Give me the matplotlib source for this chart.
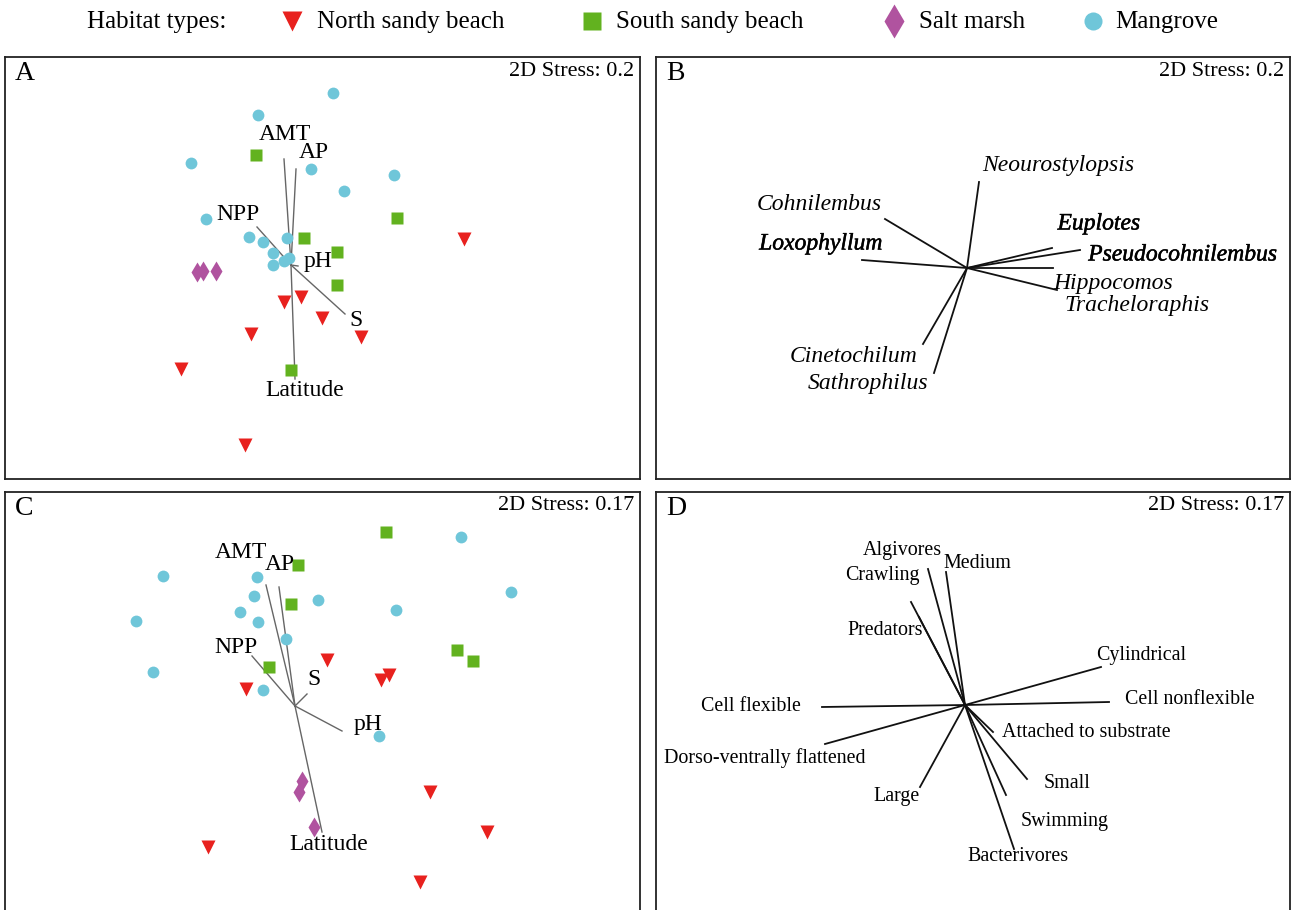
import matplotlib
matplotlib.use("Agg")
import matplotlib.pyplot as plt
import matplotlib.patheffects as pe

plt.rcParams['font.family'] = ['Liberation Serif', 'DejaVu Serif']

W, H = 1293, 910

# habitat colours / markers
hab_names = ['North sandy beach', 'South sandy beach', 'Salt marsh', 'Mangrove']
hab_colors = ['#e8211e', '#62b21f', '#b0539f', '#6fc6d9']
hab_markers = ['v', 's', 'd', 'o']

# ---- panel A: samples (ordination coords, plot units) ----
a_north_x = [464, 284, 301, 322, 251, 361, 181, 245]
a_north_y = [239, 302, 297, 318, 334, 337, 369, 445]
a_south_x = [256, 397, 304, 337, 337, 291]
a_south_y = [155, 218, 238, 252, 285, 370]
a_marsh_x = [197, 203, 216]
a_marsh_y = [272, 271, 271]
a_mang_x = [333, 258, 191, 311, 394, 344, 206, 249, 263, 287, 273, 273, 284, 289]
a_mang_y = [93, 115, 163, 169, 175, 191, 219, 237, 242, 238, 253, 265, 261, 258]

env_names = ['AMT', 'AP', 'NPP', 'S', 'pH', 'Latitude']
a_origin = (291, 265)
a_env_dx = [-7, 5, -34, 54, 7, 4]
a_env_dy = [-106, -96, -38, 49, 1, 114]

# ---- panel C ----
c_north_x = [327, 389, 381, 246, 430, 487, 208, 420]
c_north_y = [660, 675, 680, 689, 792, 832, 847, 882]
c_south_x = [386, 298, 291, 457, 473, 269]
c_south_y = [532, 565, 604, 650, 661, 667]
c_marsh_x = [302, 299, 314]
c_marsh_y = [781, 792, 827]
c_mang_x = [461, 511, 163, 257, 254, 318, 240, 258, 396, 136, 286, 153, 263, 379]
c_mang_y = [537, 592, 576, 577, 596, 600, 612, 622, 610, 621, 639, 672, 690, 736]

c_origin = (295, 706)
c_env_dx = [-29, -16, -43, 12, 47, 27]
c_env_dy = [-121, -119, -50, -12, 25, 126]

# ---- panel B: genera ----
genera = ['Neourostylopsis', 'Cohnilembus', 'Loxophyllum', 'Euplotes',
          'Pseudocohnilembus', 'Hippocomos', 'Tracheloraphis',
          'Cinetochilum', 'Sathrophilus']
b_origin = (967, 268)
b_dx = [12, -82, -105, 85, 113, 86, 90, -44, -33]
b_dy = [-86, -49, -8, -20, -18, 0, 22, 76, 105]

# ---- panel D: traits ----
traits = ['Algivores', 'Medium', 'Crawling', 'Predators', 'Cylindrical',
          'Cell nonflexible', 'Cell flexible', 'Dorso-ventrally flattened',
          'Attached to substrate', 'Small', 'Swimming', 'Bacterivores', 'Large']
d_origin = (965, 705)
d_dx = [-37, -19, -54, -46, 136, 144, -143, -140, 28, 62, 41, 49, -45]
d_dy = [-136, -133, -103, -88, -38, -3, 2, 39, 27, 74, 90, 144, 82]

# label placement (layout)
a_lab = {'AMT': (285, 135), 'AP': (314, 153), 'NPP': (238, 214),
         'S': (356, 321), 'pH': (318, 262), 'Latitude': (305, 391)}
c_lab = {'AMT': (241, 553), 'AP': (280, 565), 'NPP': (236, 648),
         'S': (314, 680), 'pH': (368, 725), 'Latitude': (329, 845)}
b_lab = {'Neourostylopsis': (1058, 166), 'Cohnilembus': (819, 204),
         'Loxophyllum': (821, 244), 'Euplotes': (1099, 224),
         'Pseudocohnilembus': (1183, 255), 'Hippocomos': (1113, 283),
         'Tracheloraphis': (1137, 305), 'Cinetochilum': (854, 356),
         'Sathrophilus': (868, 384)}
b_heavy = ['Loxophyllum', 'Euplotes', 'Pseudocohnilembus']
d_lab = {'Algivores': (902, 551), 'Medium': (977, 564), 'Crawling': (882, 576),
         'Predators': (885, 631), 'Cylindrical': (1141, 656),
         'Cell nonflexible': (1190, 700), 'Cell flexible': (751, 707),
         'Dorso-ventrally flattened': (765, 758),
         'Attached to substrate': (1086, 733), 'Small': (1067, 784),
         'Swimming': (1065, 822), 'Bacterivores': (1018, 857),
         'Large': (897, 797)}

fig = plt.figure(figsize=(W / 100, H / 100), dpi=100)


def panel(l, t, r, b):
    ax = fig.add_axes([l / W, 1 - b / H, (r - l) / W, (b - t) / H])
    ax.set_xlim(l, r)
    ax.set_ylim(b, t)
    ax.set_xticks([])
    ax.set_yticks([])
    for s in ax.spines.values():
        s.set_linewidth(1.3)
        s.set_color('#222222')
    return ax


axA = panel(5, 57, 640, 479)
axB = panel(656, 57, 1290, 479)
axC = panel(5, 492, 640, 930)
axD = panel(656, 492, 1290, 930)

for ax, letter, stress, (l, t, r) in [(axA, 'A', '0.2', (5, 57, 640)),
                                      (axB, 'B', '0.2', (656, 57, 1290)),
                                      (axC, 'C', '0.17', (5, 492, 640)),
                                      (axD, 'D', '0.17', (656, 492, 1290))]:
    ax.text(l + 10, t + 17, letter, fontsize=20, ha='left', va='center')
    ax.text(r - 6, t + 14, '2D Stress: ' + stress, fontsize=16, ha='right', va='center')

msize = {'v': 10, 's': 8, 'd': 10.5, 'o': 8.5}


def samples(ax, groups, origin, dx, dy, labs):
    for k in range(len(dx)):
        ax.plot([origin[0], origin[0] + dx[k]], [origin[1], origin[1] + dy[k]],
                color='#666666', lw=1.0, zorder=2)
    for (xs, ys), c, m in zip(groups, hab_colors, hab_markers):
        ax.plot(xs, ys, ls='none', marker=m, color=c, mec='none',
                ms=msize[m], zorder=3)
    for name in env_names:
        x, y = labs[name]
        ax.text(x, y, name, fontsize=17, ha='center', va='center', zorder=4)


samples(axA, [(a_north_x, a_north_y), (a_south_x, a_south_y),
              (a_marsh_x, a_marsh_y), (a_mang_x, a_mang_y)],
        a_origin, a_env_dx, a_env_dy, a_lab)
samples(axC, [(c_north_x, c_north_y), (c_south_x, c_south_y),
              (c_marsh_x, c_marsh_y), (c_mang_x, c_mang_y)],
        c_origin, c_env_dx, c_env_dy, c_lab)

heavy = [pe.withStroke(linewidth=0.35, foreground='black')]
for i, g in enumerate(genera):
    axB.plot([b_origin[0], b_origin[0] + b_dx[i]], [b_origin[1], b_origin[1] + b_dy[i]],
             color='#111111', lw=1.3)
    x, y = b_lab[g]
    t = axB.text(x, y, g, fontsize=17, style='italic', ha='center', va='center')
    if g in b_heavy:
        t.set_path_effects(heavy)

for i, tr in enumerate(traits):
    axD.plot([d_origin[0], d_origin[0] + d_dx[i]], [d_origin[1], d_origin[1] + d_dy[i]],
             color='#111111', lw=1.3)
    x, y = d_lab[tr]
    axD.text(x, y, tr, fontsize=14.4, ha='center', va='center')

# legend row across the top
leg = fig.add_axes([0, 1 - 45 / H, 1, 45 / H])
leg.set_xlim(0, W)
leg.set_ylim(45, 0)
leg.axis('off')
leg.text(87, 22, 'Habitat types:', fontsize=18, ha='left', va='center')
leg_mx = [292, 592, 894, 1093]
leg_tx = [317, 616, 919, 1115]
leg_ms = {'v': 15, 's': 13, 'd': 17, 'o': 13}
for name, c, m, mx, tx in zip(hab_names, hab_colors, hab_markers, leg_mx, leg_tx):
    leg.plot([mx], [21], marker=m, color=c, mec='none', ms=leg_ms[m], ls='none')
    leg.text(tx, 22, name, fontsize=18, ha='left', va='center')

fig.savefig('out.png', dpi=100)
